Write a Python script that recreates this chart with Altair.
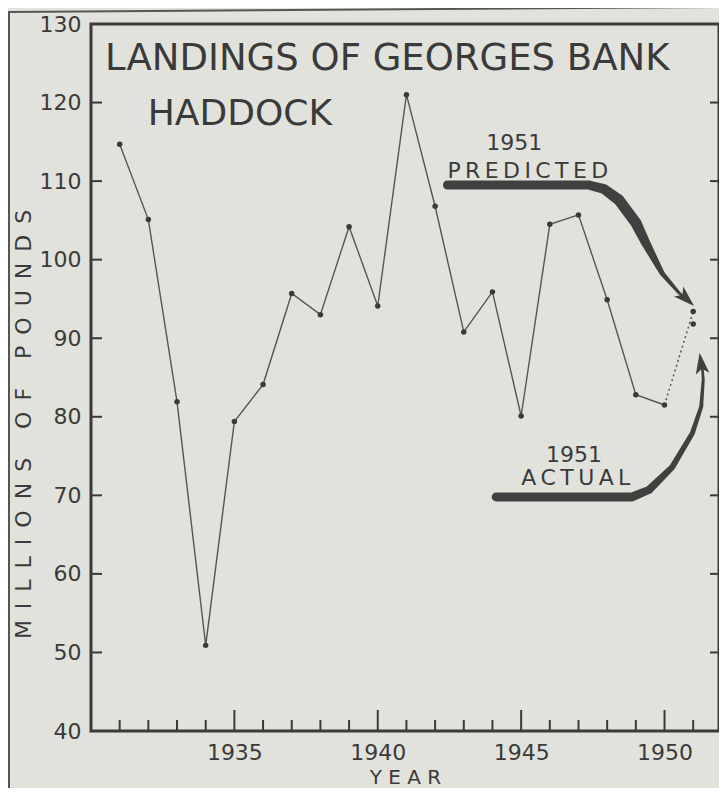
import altair as alt
import pandas as pd

# ---------------- data ----------------
years = list(range(1931, 1951))
landings = [114.7, 105.1, 81.9, 50.9, 79.4, 84.1, 95.7, 93.0, 104.2, 94.1,
            121.0, 106.8, 90.8, 95.9, 80.1, 104.5, 105.7, 94.9, 82.8, 81.5]
year_1951 = 1951
actual_1951 = 91.8
predicted_1951 = 93.4

y_ticks = [40, 50, 60, 70, 80, 90, 100, 110, 120, 130]
x_major = [1935, 1940, 1945, 1950]
x_minor = [y for y in range(1931, 1952) if y not in x_major]

# annotation arrows (in data units: year, millions of pounds)
pred_x = [1942.43, 1947.37, 1947.89, 1948.41, 1949.00, 1949.35, 1949.91, 1950.50, 1950.80]
pred_y = [109.5, 109.5, 109.0, 107.6, 104.7, 102.1, 98.3, 95.8, 94.7]
pred_w = [9, 9, 10, 11, 11, 9, 5, 3, 2]
act_x = [1944.13, 1948.87, 1949.46, 1950.27, 1950.97, 1951.28, 1951.35, 1951.32]
act_y = [69.8, 69.8, 70.7, 73.6, 77.9, 81.3, 84.7, 86.2]
act_w = [9, 9, 8, 6, 5, 4, 3, 2.5]

FONT = "DejaVu Sans"
INK = "#3a3a3a"
LINE = "#555555"
BG = "#e2e2dc"

NB = "\u00a0"
EN = "\u2002"
TH = "\u2009"

W, H = 628, 707


def spaced(text, gap, word_gap):
    return word_gap.join(gap.join(w) for w in text.split(" "))


x_scale = alt.Scale(domain=[1930, 1951.9], nice=False, zero=False)
y_scale = alt.Scale(domain=[40, 130], nice=False, zero=False)

x_axis = alt.Axis(values=x_major, format="d", ticks=False, domain=False,
                  grid=False, labelFont=FONT, labelFontSize=22,
                  labelColor=INK, labelPadding=11, labelFlush=False,
                  labelOverlap=False,
                  title=spaced("YEAR", NB, NB), titleFont=FONT,
                  titleFontSize=20, titleFontWeight="normal",
                  titleColor=INK, titleX=314, titleY=46,
                  titleBaseline="middle", titleAlign="center")
y_axis = alt.Axis(values=y_ticks, format="d", ticks=False, domain=False,
                  grid=False, labelFont=FONT, labelFontSize=22,
                  labelColor=INK, labelPadding=10, labelFlush=False,
                  labelOverlap=False,
                  title=spaced("MILLIONS OF POUNDS", EN, EN + NB + EN),
                  titleFont=FONT, titleFontSize=22,
                  titleFontWeight="normal", titleColor=INK,
                  titleX=-68, titleY=400, titleAngle=270,
                  titleBaseline="middle", titleAlign="center")


def X(field):
    return alt.X(field, scale=x_scale, axis=x_axis)


def Y(field):
    return alt.Y(field, scale=y_scale, axis=y_axis)


main_df = pd.DataFrame({"year": years, "value": landings})
dot_df = pd.DataFrame({"year": [years[-1], year_1951],
                       "value": [landings[-1], predicted_1951]})
p51_df = pd.DataFrame({"year": [year_1951, year_1951],
                       "value": [predicted_1951, actual_1951]})

line = alt.Chart(main_df).mark_line(color=LINE, strokeWidth=1.4).encode(
    x=X("year:Q"), y=Y("value:Q"))

pts = alt.Chart(main_df).mark_circle(color=INK, size=30, opacity=1).encode(
    x=X("year:Q"), y=Y("value:Q"))

dotted = alt.Chart(dot_df).mark_line(color=LINE, strokeWidth=1.5,
                                      strokeDash=[2, 3]).encode(
    x=X("year:Q"), y=Y("value:Q"))

pts51 = alt.Chart(p51_df).mark_circle(color=INK, size=30, opacity=1).encode(
    x=X("year:Q"), y=Y("value:Q"))

# ticks
minor_df = pd.DataFrame({"year": x_minor})
major_df = pd.DataFrame({"year": x_major})
yt_df = pd.DataFrame({"value": y_ticks[1:-1]})

minor_t = alt.Chart(minor_df).mark_rule(color=INK, strokeWidth=2).encode(
    x=X("year:Q"), y=alt.value(H), y2=alt.value(H - 11))
major_t = alt.Chart(major_df).mark_rule(color=INK, strokeWidth=2).encode(
    x=X("year:Q"), y=alt.value(H), y2=alt.value(H - 21))
left_t = alt.Chart(yt_df).mark_rule(color=INK, strokeWidth=2).encode(
    y=Y("value:Q"), x=alt.value(0), x2=alt.value(11))
right_t = alt.Chart(yt_df).mark_rule(color=INK, strokeWidth=2).encode(
    y=Y("value:Q"), x=alt.value(W), x2=alt.value(W - 9))

# arrows
pred_df = pd.DataFrame({"year": pred_x, "value": pred_y, "w": pred_w,
                        "i": list(range(len(pred_x)))})
act_df = pd.DataFrame({"year": act_x, "value": act_y, "w": act_w,
                       "i": list(range(len(act_x)))})


def trail(df):
    return alt.Chart(df).mark_trail(color="#404040").encode(
        x=X("year:Q"), y=Y("value:Q"),
        size=alt.Size("w:Q", scale=None, legend=None),
        order="i:Q")


head_df = pd.DataFrame({"year": [1950.74, 1951.28], "value": [95.1, 86.7],
                        "a": [133, 352]})
heads = alt.Chart(head_df).mark_point(
    shape="M0,-1L0.6,0.85L0,0.4L-0.6,0.85Z", filled=True, color="#404040",
    opacity=1, size=520).encode(
    x=X("year:Q"), y=Y("value:Q"),
    angle=alt.Angle("a:Q", scale=None))

# text annotations
notes = pd.DataFrame({
    "year": [1930.49, 1931.98, 1943.78, 1942.43, 1945.87, 1945.0],
    "value": [124.2, 117.2, 113.96, 110.4, 74.25, 71.32],
    "t": ["LANDINGS OF GEORGES BANK", "HADDOCK", "1951",
          TH.join("PREDICTED"), "1951", TH.join("ACTUAL")],
    "fs": [37, 36, 22, 22, 22, 22],
})
texts = alt.Chart(notes).mark_text(font=FONT, color=INK, align="left",
                                   baseline="alphabetic").encode(
    x=X("year:Q"), y=Y("value:Q"),
    text="t:N",
    size=alt.Size("fs:Q", scale=None, legend=None))

# outer frame of the scanned page
one = pd.DataFrame({"k": [0]})
frame_l = alt.Chart(one).mark_rule(color="#555555", strokeWidth=2).encode(
    x=alt.value(-82), y=alt.value(-13), y2=alt.value(780))
frame_t = alt.Chart(one).mark_rule(color="#555555", strokeWidth=2).encode(
    x=alt.value(-82), x2=alt.value(640), y=alt.value(-12), y2=alt.value(-17))

chart = alt.layer(
    line, frame_l, frame_t, minor_t, major_t, left_t, right_t,
    trail(pred_df), trail(act_df), heads,
    dotted, pts, pts51, texts,
).properties(
    width=W, height=H,
    autosize=alt.AutoSizeParams(type="none"),
    padding={"left": 83, "top": 16, "right": 0, "bottom": 57},
    background=BG,
).configure_view(
    stroke=INK, strokeWidth=3, fill=BG,
)

chart.save("out.html", embed_options={"renderer": "svg", "actions": False})
